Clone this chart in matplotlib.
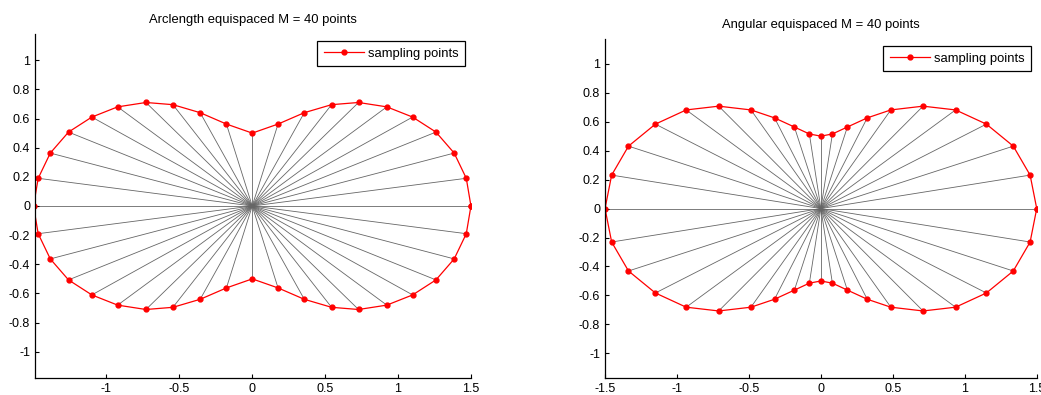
import numpy as np
import matplotlib
matplotlib.use("Agg")
import matplotlib.pyplot as plt

plt.rcParams["font.family"] = ["Liberation Sans", "DejaVu Sans"]

# ── data (counter-clockwise from (1.5, 0)) ──
arc_x = [1.5, 1.468, 1.385, 1.26, 1.10, 0.923, 0.729, 0.544, 0.357, 0.177,
         0.0, -0.177, -0.357, -0.544, -0.729, -0.923, -1.10, -1.26, -1.385, -1.468,
         -1.5, -1.468, -1.385, -1.26, -1.10, -0.923, -0.729, -0.544, -0.357, -0.177,
         0.0, 0.177, 0.357, 0.544, 0.729, 0.923, 1.10, 1.26, 1.385, 1.468]
arc_y = [0.0, 0.19, 0.363, 0.507, 0.61, 0.68, 0.71, 0.695, 0.64, 0.562,
         0.50, 0.562, 0.64, 0.695, 0.71, 0.68, 0.61, 0.507, 0.363, 0.19,
         0.0, -0.19, -0.363, -0.507, -0.61, -0.68, -0.71, -0.695, -0.64, -0.562,
         -0.50, -0.562, -0.64, -0.695, -0.71, -0.68, -0.61, -0.507, -0.363, -0.19]

ang_x = [1.5, 1.454, 1.337, 1.150, 0.936, 0.71, 0.486, 0.322, 0.184, 0.08,
         0.0, -0.08, -0.184, -0.322, -0.486, -0.71, -0.936, -1.150, -1.337, -1.454,
         -1.5, -1.454, -1.337, -1.150, -0.936, -0.71, -0.486, -0.322, -0.184, -0.08,
         0.0, 0.08, 0.184, 0.322, 0.486, 0.71, 0.936, 1.150, 1.337, 1.454]
ang_y = [0.0, 0.231, 0.431, 0.583, 0.681, 0.707, 0.681, 0.626, 0.563, 0.515,
         0.50, 0.515, 0.563, 0.626, 0.681, 0.707, 0.681, 0.583, 0.431, 0.231,
         0.0, -0.231, -0.431, -0.583, -0.681, -0.707, -0.681, -0.626, -0.563, -0.515,
         -0.50, -0.515, -0.563, -0.626, -0.681, -0.707, -0.681, -0.583, -0.431, -0.231]

y_ticks = [-1, -0.8, -0.6, -0.4, -0.2, 0, 0.2, 0.4, 0.6, 0.8, 1]
y_labels = ["-1", "-0.8", "-0.6", "-0.4", "-0.2", "0", "0.2", "0.4", "0.6", "0.8", "1"]


def draw(ax, xs, ys, title, xticks, xlabels, xlim, ylim):
    xs = np.asarray(xs)
    ys = np.asarray(ys)
    for x, y in zip(xs, ys):
        ax.plot([0, x], [0, y], color="0.4", lw=0.6, zorder=1)
    ax.plot(np.append(xs, xs[0]), np.append(ys, ys[0]), "r.-", lw=0.9,
            ms=7, label="sampling points", zorder=2)
    ax.set_xlim(*xlim)
    ax.set_ylim(*ylim)
    ax.set_xticks(xticks)
    ax.set_xticklabels(xlabels)
    ax.set_yticks(y_ticks)
    ax.set_yticklabels(y_labels)
    ax.tick_params(direction="in", length=3, width=0.8, labelsize=9, pad=3.5)
    for s in ("top", "right"):
        ax.spines[s].set_visible(False)
    for s in ("left", "bottom"):
        ax.spines[s].set_linewidth(0.9)
    ax.set_title(title, fontsize=9.4, pad=8)
    leg = ax.legend(loc="upper right", bbox_to_anchor=(0.987, 0.98),
                    borderaxespad=0, fontsize=9.4, fancybox=False,
                    framealpha=1, edgecolor="black", handlelength=3.1,
                    handletextpad=0.3, borderpad=0.5)
    leg.get_frame().set_linewidth(0.9)


fig = plt.figure(figsize=(10.41, 3.95), dpi=100)
ax1 = fig.add_axes([0.0336, 0.043, 0.4188, 0.871])
ax2 = fig.add_axes([0.5812, 0.043, 0.4147, 0.858])

draw(ax1, arc_x, arc_y, "Arclength equispaced M = 40 points",
     [-1, -0.5, 0, 0.5, 1, 1.5], ["-1", "-0.5", "0", "0.5", "1", "1.5"],
     (-1.49, 1.5), (-1.18, 1.18))
draw(ax2, ang_x, ang_y, "Angular equispaced M = 40 points",
     [-1.5, -1, -0.5, 0, 0.5, 1, 1.5], ["-1.5", "-1", "-0.5", "0", "0.5", "1", "1.5"],
     (-1.5, 1.5), (-1.17, 1.17))

fig.savefig("out.png", dpi=100)
